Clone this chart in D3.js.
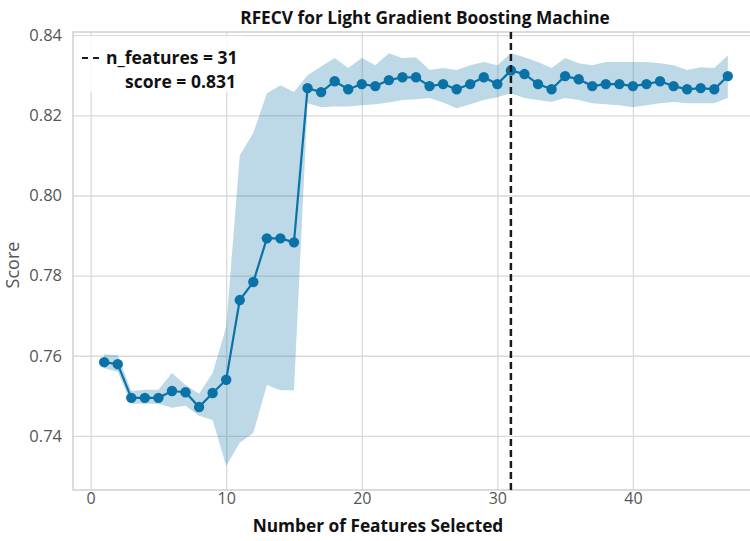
<!DOCTYPE html>
<html>
<head>
<meta charset="utf-8">
<script src="https://cdn.jsdelivr.net/npm/d3@7"></script>
<style>
  html, body { margin: 0; padding: 0; background: #ffffff; }
  svg { display: block; font-family: "Open Sans", "Noto Sans", sans-serif; }
</style>
</head>
<body>
<svg id="chart" width="750" height="541"></svg>
<script>
// ---------- data ----------
const nFeatures = d3.range(1, 48);
const meanScore = [
  0.7584, 0.7579, 0.7495, 0.7495, 0.7495, 0.7512, 0.7509, 0.7472, 0.7507, 0.7540,
  0.7739, 0.7784, 0.7893, 0.7893, 0.7883, 0.8268, 0.8258, 0.8285, 0.8265, 0.8278,
  0.8273, 0.8288, 0.8295, 0.8295, 0.8273, 0.8278, 0.8265, 0.8278, 0.8295, 0.8278,
  0.8312, 0.8303, 0.8278, 0.8265, 0.8298, 0.8290, 0.8273, 0.8278, 0.8278, 0.8273,
  0.8278, 0.8285, 0.8273, 0.8265, 0.8268, 0.8265, 0.8298
];
const upperScore = [
  0.7604, 0.7601, 0.7512, 0.7515, 0.7515, 0.7557, 0.7527, 0.7505, 0.7557, 0.7672,
  0.8100, 0.8156, 0.8255, 0.8275, 0.8258, 0.8300, 0.8322, 0.8343, 0.8318, 0.8343,
  0.8325, 0.8355, 0.8343, 0.8345, 0.8313, 0.8318, 0.8313, 0.8325, 0.8333, 0.8325,
  0.8355, 0.8345, 0.8333, 0.8318, 0.8343, 0.8330, 0.8325, 0.8333, 0.8333, 0.8333,
  0.8333, 0.8330, 0.8325, 0.8313, 0.8320, 0.8318, 0.8350
];
const lowerScore = [
  0.7569, 0.7560, 0.7480, 0.7480, 0.7480, 0.7470, 0.7475, 0.7450, 0.7440, 0.7325,
  0.7383, 0.7407, 0.7527, 0.7514, 0.7514, 0.8230, 0.8220, 0.8222, 0.8222, 0.8225,
  0.8228, 0.8232, 0.8238, 0.8240, 0.8243, 0.8232, 0.8218, 0.8228, 0.8238, 0.8245,
  0.8255, 0.8243, 0.8238, 0.8233, 0.8243, 0.8238, 0.8230, 0.8228, 0.8225, 0.8220,
  0.8225, 0.8230, 0.8233, 0.8230, 0.8230, 0.8230, 0.8243
];
const xTicks = [0, 10, 20, 30, 40];
const yTicks = [0.74, 0.76, 0.78, 0.80, 0.82, 0.84];
const bestN = 31;
const bestScore = 0.831;
const titleText = "RFECV for Light Gradient Boosting Machine";
const xLabelText = "Number of Features Selected";
const yLabelText = "Score";

// ---------- layout ----------
const svg = d3.select("#chart");
const x = d3.scaleLinear().domain([-1.3, 49.3]).range([73, 759]);
const y = d3.scaleLinear().domain([0.7265, 0.8408]).range([490, 32]);
const [x0, x1] = x.range();
const [yb, yt] = y.range();
const gridColor = "#dadada";
const lineColor = "#0b72a7";

const rows = nFeatures.map((n, i) => ({ n, m: meanScore[i], lo: lowerScore[i], hi: upperScore[i] }));

// grid lines
const gy = svg.append("g").attr("transform", `translate(${x0},0)`)
  .call(d3.axisLeft(y).tickValues(yTicks).tickFormat(d3.format(".2f")).tickSize(-(x1 - x0)).tickPadding(11));
gy.select(".domain").remove();
gy.selectAll(".tick line").attr("stroke", gridColor).attr("stroke-width", 1.3);
gy.selectAll(".tick text").attr("fill", "#555").attr("font-size", 16.5).attr("font-family", "Open Sans");

const gx = svg.append("g").attr("transform", `translate(0,${yb})`)
  .call(d3.axisBottom(x).tickValues(xTicks).tickFormat(d3.format("d")).tickSize(-(yb - yt)).tickPadding(3));
gx.select(".domain").remove();
gx.selectAll(".tick line").attr("stroke", gridColor).attr("stroke-width", 1.3);
gx.selectAll(".tick text").attr("fill", "#555").attr("font-size", 16).attr("font-family", "Open Sans");

// frame
svg.append("rect").attr("x", x0).attr("y", yt).attr("width", x1 - x0).attr("height", yb - yt)
  .attr("fill", "none").attr("stroke", "#d0d0d0").attr("stroke-width", 1.5);

// band
svg.append("path").datum(rows)
  .attr("d", d3.area().x(d => x(d.n)).y0(d => y(d.lo)).y1(d => y(d.hi)))
  .attr("fill", lineColor).attr("fill-opacity", 0.27);

// line + markers
svg.append("path").datum(rows)
  .attr("d", d3.line().x(d => x(d.n)).y(d => y(d.m)))
  .attr("fill", "none").attr("stroke", lineColor).attr("stroke-width", 2.2);
svg.append("g").selectAll("circle").data(rows).join("circle")
  .attr("cx", d => x(d.n)).attr("cy", d => y(d.m)).attr("r", 5.2).attr("fill", lineColor);

// best n_features dashed line
svg.append("line").attr("x1", x(bestN)).attr("x2", x(bestN)).attr("y1", yt).attr("y2", yb)
  .attr("stroke", "#1a1a1a").attr("stroke-width", 2.5).attr("stroke-dasharray", "7,4");

// legend
const lg = svg.append("g");
lg.append("rect").attr("x", 76).attr("y", 36).attr("width", 168).attr("height", 56)
  .attr("fill", "#ffffff").attr("fill-opacity", 0.85);
lg.append("line").attr("x1", 82).attr("x2", 99).attr("y1", 58).attr("y2", 58)
  .attr("stroke", "#1a1a1a").attr("stroke-width", 2.2).attr("stroke-dasharray", "6,5");
lg.append("text").attr("x", 106).attr("y", 64).attr("font-size", 17.5).attr("font-weight", "bold")
  .attr("fill", "#111").text(`n_features = ${bestN}`);
lg.append("text").attr("x", 125).attr("y", 88).attr("font-size", 17.5).attr("font-weight", "bold")
  .attr("fill", "#111").text(`score = ${bestScore.toFixed(3)}`);

// title & labels
svg.append("text").attr("x", 425).attr("y", 24).attr("text-anchor", "middle")
  .attr("font-size", 17.3).attr("font-weight", "bold").attr("fill", "#111").text(titleText);
svg.append("text").attr("x", 378).attr("y", 532).attr("text-anchor", "middle")
  .attr("font-size", 17.3).attr("font-weight", "bold").attr("fill", "#111").text(xLabelText);
svg.append("text").attr("transform", "translate(19,265) rotate(-90)").attr("text-anchor", "middle")
  .attr("font-size", 18).attr("fill", "#555").text(yLabelText);
</script>
</body>
</html>
